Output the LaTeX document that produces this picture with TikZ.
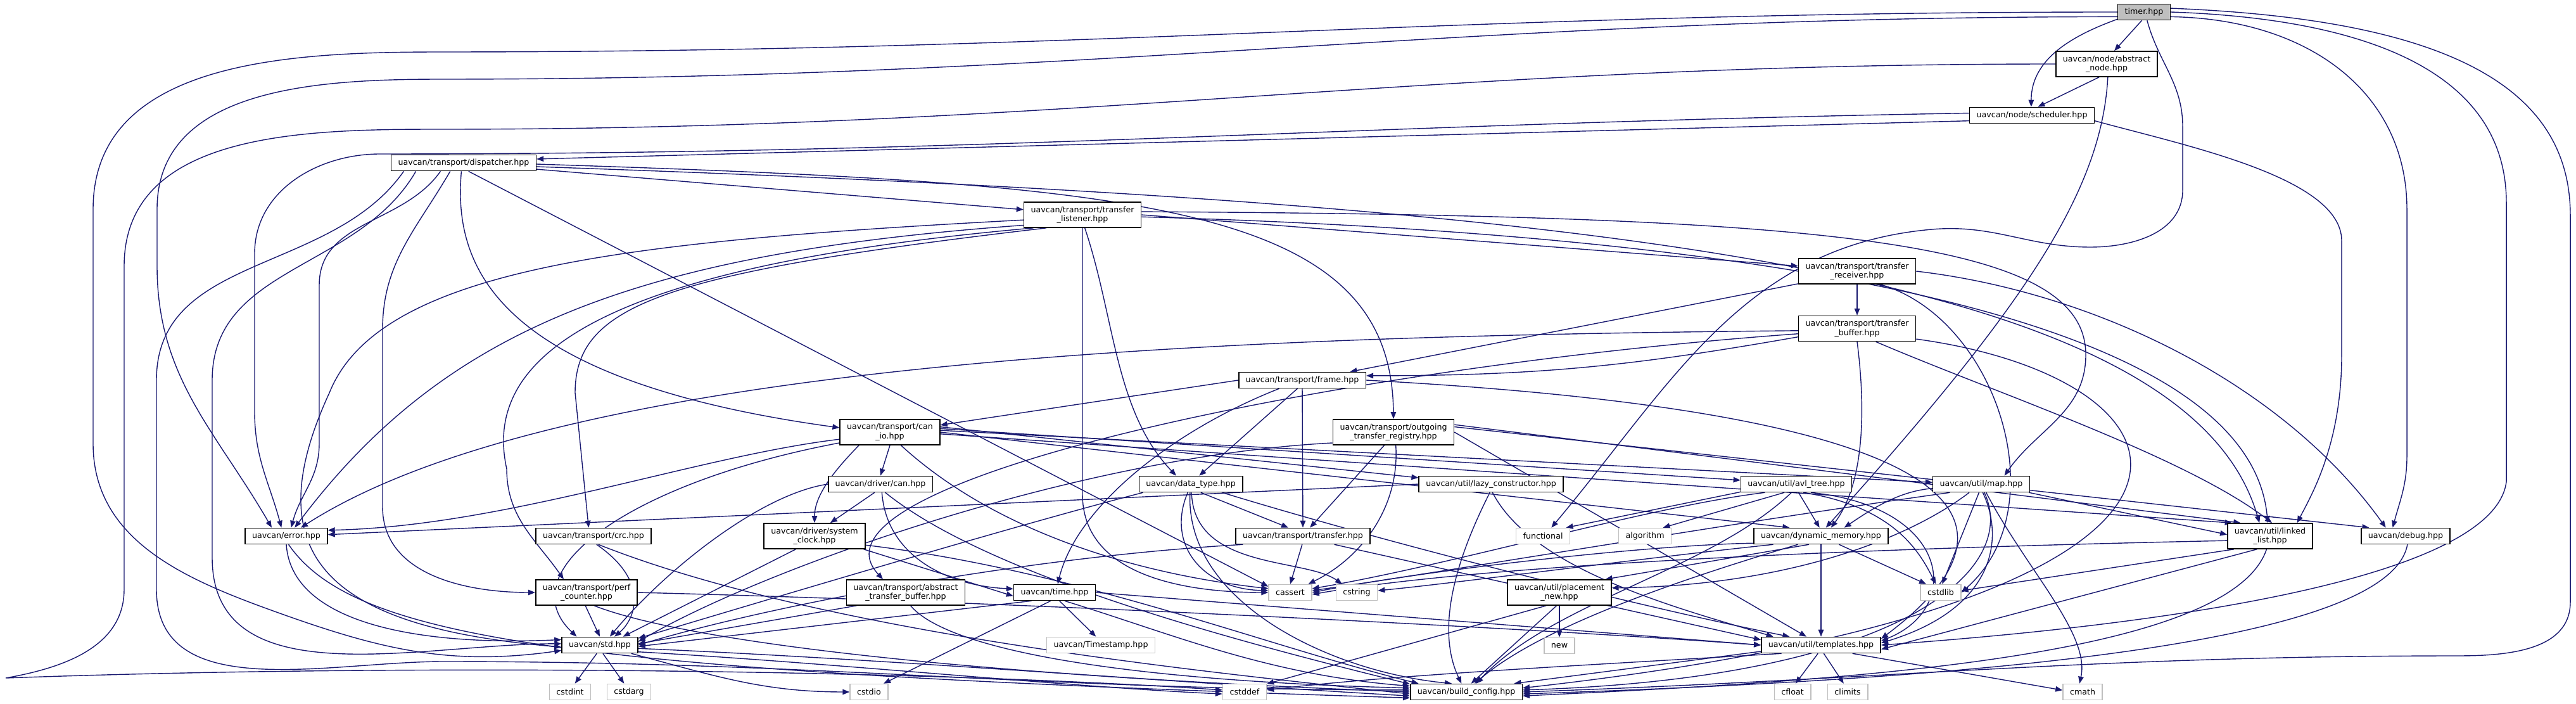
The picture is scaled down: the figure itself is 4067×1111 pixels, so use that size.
\documentclass[tikz,border=0pt]{standalone}
\usepackage{fontspec}
\usepackage{tikz}
\usetikzlibrary{arrows.meta, positioning, backgrounds}
\newfontfamily\dvsans{DejaVu Sans}
\definecolor{depblue}{HTML}{191970}
\definecolor{sysgray}{HTML}{BFBFBF}

\begin{document}
\begin{tikzpicture}[
    x=0.1mm, y=-0.1mm,
    hdr/.style={rectangle, draw=black, fill=white, line width=0.45pt, font={\dvsans\fontsize{3.6}{4.1}\selectfont}, inner xsep=1.1mm, inner ysep=0.5mm, minimum height=2.5mm, align=center},
    two/.style={hdr, minimum height=4mm},
    sys/.style={hdr, draw=sysgray},
    cur/.style={hdr, fill=sysgray},
    dep/.style={draw=depblue, line width=0.4pt, -{Triangle[length=1.1mm, width=0.85mm]}}
]
\useasboundingbox (0,0) rectangle (4067,1111);

\node[cur] (timer) at (3385,19) {timer.hpp};
\node[two] (absnode) at (3326,101) {uavcan/node/abstract\\\_node.hpp};
\node[hdr] (sched) at (3208,182) {uavcan/node/scheduler.hpp};
\node[hdr] (disp) at (732,257) {uavcan/transport/dispatcher.hpp};
\node[two] (tlist) at (1709,339) {uavcan/transport/transfer\\\_listener.hpp};
\node[two] (trecv) at (2932,428) {uavcan/transport/transfer\\\_receiver.hpp};
\node[two, below=4.9mm of trecv] (tbuf) {uavcan/transport/transfer\\\_buffer.hpp};
\node[hdr] (frame) at (2056,600) {uavcan/transport/frame.hpp};
\node[two] (canio) at (1405,682) {uavcan/transport/can\\\_io.hpp};
\node[two] (otr) at (2200,682) {uavcan/transport/outgoing\\\_transfer\_registry.hpp};
\node[hdr] (drvcan) at (1390,764) {uavcan/driver/can.hpp};
\node[hdr] (dtype) at (1880,764) {uavcan/data\_type.hpp};
\node[hdr] (lazy) at (2354,764) {uavcan/util/lazy\_constructor.hpp};
\node[hdr] (avl) at (2836,764) {uavcan/util/avl\_tree.hpp};
\node[hdr] (map) at (3128,764) {uavcan/util/map.hpp};
\node[hdr] (err) at (452,846) {uavcan/error.hpp};
\node[hdr] (crc) at (937,846) {uavcan/transport/crc.hpp};
\node[two] (sysclk) at (1286,846) {uavcan/driver/system\\\_clock.hpp};
\node[hdr] (xfer) at (2057,846) {uavcan/transport/transfer.hpp};
\node[sys] (functional) at (2436,846) {functional};
\node[sys] (algorithm) at (2597,846) {algorithm};
\node[hdr] (dynmem) at (2875,846) {uavcan/dynamic\_memory.hpp};
\node[two] (llist) at (3584,846) {uavcan/util/linked\\\_list.hpp};
\node[hdr] (debug) at (3798,846) {uavcan/debug.hpp};
\node[two] (perf) at (926,935) {uavcan/transport/perf\\\_counter.hpp};
\node[two] (atb) at (1430,935) {uavcan/transport/abstract\\\_transfer\_buffer.hpp};
\node[hdr] (time) at (1665,935) {uavcan/time.hpp};
\node[sys] (cassert) at (2037,935) {cassert};
\node[sys] (cstring) at (2142,935) {cstring};
\node[two] (pnew) at (2462,935) {uavcan/util/placement\\\_new.hpp};
\node[sys] (cstdlib) at (3064,935) {cstdlib};
\node[hdr] (std) at (947,1018) {uavcan/std.hpp};
\node[sys] (tstamp) at (1738,1018) {uavcan/Timestamp.hpp};
\node[sys, below=5mm of pnew] (new) {new};
\node[hdr] (templ) at (2875,1018) {uavcan/util/templates.hpp};
\node[sys] (cstdint) at (900,1092) {cstdint};
\node[sys] (cstdarg) at (993,1092) {cstdarg};
\node[sys] (cstdio) at (1372,1092) {cstdio};
\node[sys] (cstddef) at (1965,1092) {cstddef};
\node[hdr] (bcfg) at (2315,1092) {uavcan/build\_config.hpp};
\node[sys] (cfloat) at (2830,1092) {cfloat};
\node[sys] (climits) at (2917,1092) {climits};
\node[sys] (cmath) at (3288,1092) {cmath};

\begin{scope}[on background layer]
\draw[dep] (timer.west) to[out=180,in=0] (700,82) to[out=180,in=90] (147,330) -- (147,700) to[out=270,in=160] (420,960) to[out=-20,in=188] (std.188);
\draw[dep] (timer.190) to[out=180,in=0] (700,125) to[out=180,in=90] (248,330) -- (248,420) to[out=270,in=120] (err.150);
\draw[dep] (timer.255) -- (absnode.60);
\draw[dep] (timer.195) to[out=200,in=90] (sched.95);
\draw[dep] (timer.290) to[out=285,in=90] (3446,200) -- (3446,300) to[out=270,in=0] (3300,390) to[out=180,in=5] (3050,362) to[out=185,in=50] (functional.45);
\draw[dep] (timer.350) .. controls (3650,30) and (3800,150) .. (3800,330) -- (3800,720) to[out=270,in=75] (debug.147);
\draw[dep] (timer.0) .. controls (3750,30) and (3957,120) .. (3957,320) -- (3957,760) .. controls (3940,900) and (3500,980) .. (templ.0);
\draw[dep] (timer.8) .. controls (3850,30) and (4058,130) .. (4058,340) -- (4058,950) to[out=270,in=0] (3880,1035) to[out=180,in=2] (bcfg.0);
\draw[dep] (absnode.240) -- (sched.55);
\draw[dep] (absnode.275) .. controls (3318,300) and (3200,480) .. (dynmem.60);
\draw[dep] (absnode.west) to[out=180,in=0] (700,204) to[out=180,in=90] (196,420) -- (196,930) to[out=270,in=10] (9,1070) .. controls (700,1045) and (1500,1060) .. (cstddef.175);
\draw[dep] (sched.185) -- (disp.3);
\draw[dep] (sched.178) to[out=181,in=0] (600,243) to[out=180,in=90] (402,400) -- (402,650) to[out=270,in=105] (err.120);
\draw[dep] (sched.355) .. controls (3450,230) and (3697,280) .. (3697,380) -- (3697,560) .. controls (3697,700) and (3650,780) .. (llist.26);
\draw[dep] (disp.355) -- (tlist.175);
\draw[dep] (disp.359) .. controls (1800,290) and (2197,320) .. (otr.north);
\draw[dep] (disp.357) .. controls (2500,320) and (3450,420) .. (llist.129);
\draw[dep] (disp.212) to[out=240,in=90] (604,520) -- (604,800) to[out=270,in=180] (perf.west);
\draw[dep] (disp.255) .. controls (715,420) and (780,600) .. (canio.175);
\draw[dep] (disp.190) to[out=240,in=90] (335,600) -- (335,880) to[out=270,in=180] (std.178);
\draw[dep] (disp.188) to[out=235,in=90] (247,600) -- (247,930) to[out=270,in=180] (700,1044) to[out=0,in=180] (bcfg.178);
\draw[dep] (disp.200) to[out=235,in=90] (504,450) -- (504,700) to[out=270,in=75] (err.60);
\draw[dep] (disp.300) -- (cassert.165);
\draw[dep] (tlist.east) -- (trecv.175);
\draw[dep] (tlist.185) .. controls (1000,380) and (600,420) .. (520,620) .. controls (400,880) and (520,990) .. (std.183);
\draw[dep] (tlist.190) .. controls (1000,400) and (700,520) .. (err.45);
\draw[dep] (tlist.195) .. controls (950,420) and (760,560) .. (800,740) to[out=270,in=125] (perf.150);
\draw[dep] (tlist.200) .. controls (1050,430) and (908,480) .. (908,620) -- (crc.120);
\draw[dep] (tlist.280) .. controls (1760,500) and (1760,650) .. (dtype.150);
\draw[dep] (tlist.south) -- (1709,780) to[out=270,in=180] (cassert.180);
\draw[dep] (tlist.3) .. controls (2900,340) and (3293,380) .. (3293,560) to[out=270,in=55] (map.20);
\draw[dep] (tlist.358) .. controls (2800,370) and (3550,500) .. (llist.100);
\draw[dep] (trecv.south) -- (tbuf.north);
\draw[dep] (trecv.192) -- (frame.10);
\draw[dep] (trecv.east) .. controls (3300,460) and (3600,600) .. (debug.157);
\draw[dep] (trecv.330) .. controls (3150,500) and (3250,800) .. (cstdlib.east);
\draw[dep] (tbuf.188) to[out=190,in=0] (frame.4);
\draw[dep] (tbuf.182) .. controls (2000,530) and (900,560) .. (err.30);
\draw[dep] (tbuf.185) .. controls (2100,580) and (1250,760) .. (atb.150);
\draw[dep] (tbuf.south) .. controls (2945,640) and (2945,760) .. (dynmem.40);
\draw[dep] (tbuf.325) .. controls (3150,620) and (3450,720) .. (llist.82);
\draw[dep] (tbuf.350) .. controls (3500,600) and (3620,950) .. (bcfg.4);
\draw[dep] (frame.west) -- (canio.8);
\draw[dep] (frame.200) .. controls (1850,680) and (1700,800) .. (time.70);
\draw[dep] (frame.240) -- (dtype.45);
\draw[dep] (frame.south) -- (xfer.north);
\draw[dep] (frame.east) .. controls (2900,640) and (3300,760) .. (templ.6);
\draw[dep] (canio.south) -- (drvcan.north);
\draw[dep] (canio.203) .. controls (1320,740) and (1286,780) .. (sysclk.north);
\draw[dep] (canio.188) .. controls (1100,720) and (800,830) .. (err.8);
\draw[dep] (canio.192) .. controls (1000,760) and (800,900) .. (std.160);
\draw[dep] (canio.6) -- (lazy.175);
\draw[dep] (canio.4) -- (avl.176);
\draw[dep] (canio.2) -- (map.178);
\draw[dep] (canio.0) -- (dynmem.165);
\draw[dep] (canio.358) -- (llist.161);
\draw[dep] (canio.310) .. controls (1550,820) and (1750,900) .. (cassert.170);
\draw[dep] (otr.235) -- (xfer.50);
\draw[dep] (otr.280) .. controls (2210,800) and (2150,880) .. (cassert.25);
\draw[dep] (otr.190) .. controls (1700,720) and (1200,900) .. (std.5);
\draw[dep] (otr.7) -- (llist.156);
\draw[dep] (otr.5) -- (debug.167);
\draw[dep] (otr.0) -- (templ.150);
\draw[dep] (drvcan.235) -- (sysclk.40);
\draw[dep] (drvcan.west) .. controls (1200,780) and (1050,900) .. (std.40);
\draw[dep] (drvcan.280) .. controls (1400,880) and (1500,925) .. (time.175);
\draw[dep] (drvcan.300) .. controls (1550,900) and (1900,1000) .. (bcfg.172);
\draw[dep] (sysclk.215) -- (std.20);
\draw[dep] (sysclk.345) -- (time.185);
\draw[dep] (sysclk.350) .. controls (1700,900) and (2000,1020) .. (bcfg.170);
\draw[dep] (dtype.190) .. controls (1600,830) and (1200,950) .. (std.10);
\draw[dep] (dtype.250) .. controls (1840,860) and (1900,930) .. (cassert.175);
\draw[dep] (dtype.275) .. controls (1885,900) and (2060,880) .. (cstring.150);
\draw[dep] (dtype.320) -- (xfer.150);
\draw[dep] (dtype.265) .. controls (1870,950) and (2100,1060) .. (bcfg.150);
\draw[dep] (dtype.345) .. controls (2200,860) and (2600,960) .. (templ.165);
\draw[dep] (lazy.west) -- (err.2);
\draw[dep] (lazy.262) .. controls (2290,900) and (2270,1000) .. (bcfg.120);
\draw[dep] (lazy.280) .. controls (2420,900) and (2650,960) .. (templ.170);
\draw[dep] (xfer.188) .. controls (1600,880) and (1200,960) .. (std.0);
\draw[dep] (xfer.265) -- (cassert.north);
\draw[dep] (xfer.345) -- (templ.175);
\draw[dep] (avl.188) -- (functional.20);
\draw[dep] (avl.215) -- (algorithm.25);
\draw[dep] (avl.285) -- (dynmem.100);
\draw[dep] (avl.310) .. controls (2990,800) and (3030,870) .. (cstdlib.120);
\draw[dep] (avl.195) .. controls (2600,800) and (2300,890) .. (cassert.10);
\draw[dep] (avl.330) .. controls (3080,800) and (3100,960) .. (templ.4);
\draw[dep] (avl.240) .. controls (2700,900) and (2450,950) .. (bcfg.40);
\draw[dep] (map.185) .. controls (3000,775) and (2960,800) .. (dynmem.20);
\draw[dep] (map.215) .. controls (3000,860) and (2800,925) .. (pnew.5);
\draw[dep] (map.255) -- (cstdlib.80);
\draw[dep] (map.280) .. controls (3165,850) and (3150,960) .. (templ.2);
\draw[dep] (map.290) .. controls (3190,900) and (3000,1070) .. (bcfg.2);
\draw[dep] (map.350) -- (llist.178);
\draw[dep] (map.195) .. controls (2700,830) and (2300,900) .. (cassert.5);
\draw[dep] (map.300) .. controls (3200,900) and (3300,1000) .. (cmath.110);
\draw[dep] (dynmem.186) .. controls (2600,860) and (2250,900) .. (cassert.0);
\draw[dep] (dynmem.190) .. controls (2600,880) and (2300,920) .. (cstring.5);
\draw[dep] (dynmem.215) -- (pnew.16);
\draw[dep] (dynmem.south) -- (templ.north);
\draw[dep] (dynmem.335) -- (cstdlib.150);
\draw[dep] (dynmem.200) .. controls (2600,930) and (2420,1000) .. (bcfg.45);
\draw[dep] (pnew.south) -- (new.north);
\draw[dep] (pnew.225) -- (cstddef.20);
\draw[dep] (pnew.258) -- (bcfg.60);
\draw[dep] (llist.186) .. controls (3200,860) and (2400,880) .. (cassert.355);
\draw[dep] (llist.200) -- (cstdlib.5);
\draw[dep] (llist.225) -- (templ.356);
\draw[dep] (llist.255) .. controls (3520,1040) and (2900,1075) .. (bcfg.356);
\draw[dep] (debug.282) .. controls (3770,1030) and (3000,1075) .. (bcfg.358);
\draw[dep] (err.270) .. controls (460,980) and (650,1020) .. (std.172);
\draw[dep] (err.285) .. controls (560,1010) and (900,1060) .. (bcfg.186);
\draw[dep] (crc.290) .. controls (1030,920) and (1000,980) .. (std.30);
\draw[dep] (crc.300) .. controls (1300,1000) and (1900,1060) .. (bcfg.182);
\draw[dep] (perf.265) -- (std.north);
\draw[dep] (perf.300) .. controls (1050,1000) and (1400,1060) .. (bcfg.180);
\draw[dep] (perf.east) .. controls (1600,950) and (2400,990) .. (templ.west);
\draw[dep] (atb.195) -- (std.2);
\draw[dep] (atb.290) .. controls (1500,1030) and (1800,1075) .. (bcfg.176);
\draw[dep] (time.200) -- (std.358);
\draw[dep] (time.245) -- (cstdio.30);
\draw[dep] (time.300) -- (tstamp.120);
\draw[dep] (time.320) .. controls (1850,1000) and (2000,1065) .. (bcfg.174);
\draw[dep] (time.east) -- (templ.180);
\draw[dep] (templ.250) -- (cfloat.70);
\draw[dep] (templ.288) -- (climits.115);
\draw[dep] (templ.345) -- (cmath.175);
\draw[dep] (templ.192) .. controls (2500,1050) and (2200,1065) .. (cstddef.5);
\draw[dep] (templ.186) -- (bcfg.10);
\draw[dep] (std.250) -- (cstdint.60);
\draw[dep] (std.290) -- (cstdarg.120);
\draw[dep] (std.345) to[out=-15,in=180] (cstdio.west);
\draw[dep] (std.350) .. controls (1300,1045) and (1700,1085) .. (cstddef.185);
\draw[dep] (std.355) .. controls (1400,1040) and (1900,1080) .. (bcfg.184);
\end{scope}
\end{tikzpicture}
\end{document}
